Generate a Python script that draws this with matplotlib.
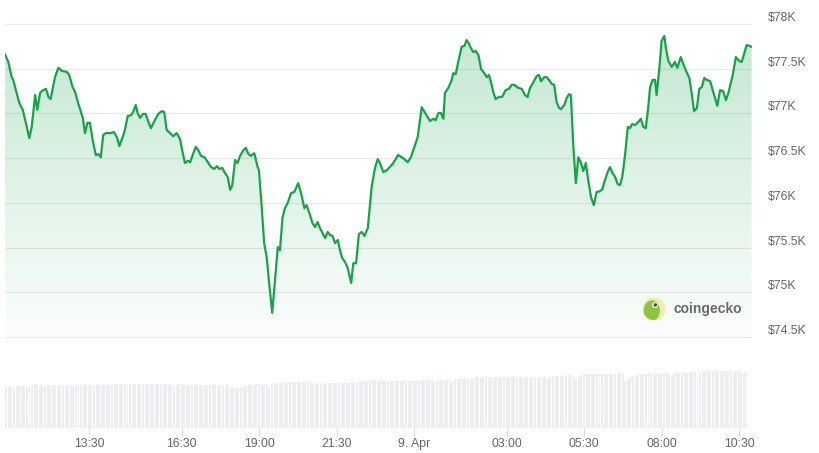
import numpy as np
import matplotlib
matplotlib.use("Agg")
import matplotlib.pyplot as plt
from matplotlib.colors import to_rgb
from matplotlib.patches import Circle, Ellipse

plt.rcParams["font.family"] = ["Liberation Sans", "DejaVu Sans"]

# price series: hours since 8 Apr 00:00, price in USD
price_hours = [
    10.79, 10.89, 11.00, 11.05, 11.16, 11.25, 11.36, 11.46, 11.57, 11.65,
    11.76, 11.83, 11.92, 12.02, 12.11, 12.19, 12.26, 12.40, 12.51, 12.62,
    12.78, 12.86, 12.97, 13.05, 13.15, 13.30, 13.37, 13.45, 13.53, 13.62,
    13.72, 13.80, 13.88, 13.96, 14.05, 14.18, 14.31, 14.40, 14.48, 14.59,
    14.66, 14.75, 14.86, 14.93, 15.01, 15.07, 15.15, 15.25, 15.33, 15.42,
    15.50, 15.63, 15.74, 15.85, 15.93, 16.01, 16.12, 16.22, 16.33, 16.44,
    16.51, 16.60, 16.69, 16.77, 16.85, 16.95, 17.03, 17.12, 17.23, 17.34,
    17.44, 17.55, 17.63, 17.71, 17.81, 17.89, 17.98, 18.06, 18.13, 18.22,
    18.30, 18.38, 18.49, 18.57, 18.65, 18.73, 18.84, 18.95, 18.99, 19.08,
    19.16, 19.24, 19.32, 19.42, 19.51, 19.60, 19.67, 19.75, 19.83, 19.92,
    20.03, 20.13, 20.26, 20.35, 20.46, 20.53, 20.64, 20.72, 20.80, 20.89,
    20.96, 21.05, 21.13, 21.21, 21.29, 21.37, 21.45, 21.54, 21.61, 21.68,
    21.77, 21.86, 21.97, 22.04, 22.13, 22.22, 22.31, 22.40, 22.51, 22.63,
    22.74, 22.83, 22.90, 23.01, 23.12, 23.22, 23.33, 23.49, 23.65, 23.80,
    23.90, 24.03, 24.12, 24.25, 24.36, 24.52, 24.62, 24.70, 24.79, 24.87,
    24.95, 25.00, 25.11, 25.22, 25.27, 25.35, 25.43, 25.54, 25.63, 25.70,
    25.76, 25.84, 25.92, 25.99, 26.08, 26.17, 26.27, 26.35, 26.42, 26.49,
    26.56, 26.64, 26.75, 26.85, 26.96, 27.07, 27.16, 27.24, 27.37, 27.48,
    27.59, 27.67, 27.75, 27.86, 27.97, 28.04, 28.10, 28.21, 28.29, 28.36,
    28.45, 28.53, 28.61, 28.69, 28.75, 28.86, 28.93, 29.01, 29.07, 29.15,
    29.23, 29.31, 29.40, 29.47, 29.55, 29.63, 29.72, 29.81, 29.90, 30.01,
    30.09, 30.17, 30.26, 30.33, 30.41, 30.50, 30.58, 30.66, 30.73, 30.82,
    30.91, 30.98, 31.05, 31.14, 31.23, 31.33, 31.41, 31.49, 31.57, 31.63,
    31.71, 31.79, 31.84, 31.93, 32.00, 32.09, 32.14, 32.22, 32.33, 32.43,
    32.51, 32.62, 32.70, 32.79, 32.90, 32.97, 33.05, 33.14, 33.22, 33.30,
    33.38, 33.46, 33.57, 33.67, 33.80, 33.89, 33.99, 34.08, 34.16, 34.30,
    34.40, 34.51, 34.59, 34.75, 34.91,
]
price_usd = [
    77655, 77580, 77410, 77375, 77230, 77115, 77040, 76895, 76725, 76850,
    77205, 77040, 77230, 77260, 77275, 77185, 77160, 77405, 77510, 77475,
    77465, 77430, 77295, 77240, 77115, 76950, 76780, 76895, 76895, 76700,
    76535, 76545, 76510, 76760, 76780, 76780, 76790, 76735, 76635, 76735,
    76815, 76970, 76980, 77020, 77095, 77005, 76950, 76995, 76995, 76905,
    76835, 76925, 76995, 77025, 77015, 76815, 76780, 76745, 76780, 76715,
    76590, 76445, 76470, 76455, 76535, 76625, 76590, 76525, 76510, 76455,
    76400, 76380, 76410, 76380, 76390, 76335, 76290, 76145, 76200, 76480,
    76445, 76525, 76590, 76615, 76545, 76525, 76555, 76400, 76365, 75955,
    75550, 75395, 75105, 74770, 75135, 75505, 75470, 75830, 75940, 76000,
    76110, 76120, 76220, 76110, 75940, 75975, 75865, 75775, 75730, 75785,
    75720, 75660, 75605, 75675, 75640, 75630, 75550, 75585, 75470, 75385,
    75340, 75270, 75105, 75325, 75325, 75650, 75675, 75630, 75720, 76175,
    76390, 76490, 76445, 76345, 76365, 76400, 76445, 76535, 76500, 76455,
    76510, 76645, 76735, 77070, 77005, 76915, 76940, 76925, 77005, 77005,
    76940, 77230, 77285, 77375, 77450, 77440, 77575, 77745, 77755, 77820,
    77790, 77730, 77685, 77700, 77655, 77495, 77450, 77405, 77430, 77350,
    77240, 77160, 77185, 77185, 77260, 77275, 77320, 77320, 77285, 77275,
    77205, 77185, 77285, 77350, 77420, 77430, 77360, 77405, 77405, 77375,
    77330, 77320, 77125, 77060, 77050, 77095, 77170, 77215, 77205, 76625,
    76220, 76510, 76445, 76355, 76445, 76255, 76065, 75975, 76120, 76130,
    76155, 76255, 76345, 76400, 76335, 76290, 76210, 76200, 76290, 76535,
    76850, 76835, 76880, 76870, 76895, 76940, 76850, 76835, 77070, 77295,
    77375, 77375, 77205, 77510, 77810, 77865, 77730, 77585, 77520, 77575,
    77510, 77630, 77555, 77475, 77395, 77230, 77025, 77060, 77275, 77295,
    77395, 77375, 77360, 77240, 77085, 77260, 77250, 77150, 77230, 77430,
    77630, 77585, 77575, 77765, 77745,
]

# 5-minute volume bars (relative units)
volume = [
    41.5, 42, 41.5, 41, 42, 42.5, 42, 41, 41.5, 42,
    43.5, 44, 43, 40, 43, 41.5, 43, 43.5, 43, 43,
    43.5, 43, 43, 43.5, 43, 43, 41, 43, 43.5, 43.5,
    43.5, 44, 43.5, 43, 43.5, 44, 43.5, 43.5, 43, 43.5,
    43.5, 44, 44, 44.5, 44, 44, 44, 43.5, 44, 44.5,
    44, 44, 43.5, 44, 44, 44, 43.5, 44, 44, 44,
    43.5, 44, 44, 44, 43.5, 41.5, 43.5, 44, 44, 43.5,
    43.5, 43, 43.5, 43.5, 44, 43.5, 43.5, 43, 43.5, 43.5,
    44, 43.5, 43.5, 43, 43.5, 43.5, 43, 41.5, 41, 40.5,
    40.5, 41, 41.5, 42, 43, 43, 43.5, 44, 44, 43.5,
    44, 44, 40, 44.5, 45, 45.5, 45, 45.5, 46, 45.5,
    46, 46, 46, 46, 46.5, 46, 46, 46, 45.5, 44.5,
    45, 45, 44.5, 45, 45, 45, 45, 45.5, 45.5, 45.5,
    45.5, 45.5, 45.5, 45.5, 46, 45.5, 45.5, 46.5, 47, 46.5,
    47, 48, 48.5, 48.5, 47, 48.5, 48, 48, 47.5, 47.5,
    47.5, 47.5, 47, 47, 47, 47, 47, 47.5, 47.5, 47.5,
    48, 48, 48, 48.5, 48, 48, 46, 48.5, 48.5, 49,
    48.5, 48.5, 48, 45, 49.5, 49.5, 49, 49.5, 50, 49.5,
    49.5, 50, 51.5, 51.5, 51.5, 51.5, 52, 51.5, 51.5, 51.5,
    51.5, 51.5, 51.5, 51.5, 51.5, 51.5, 51.5, 51.5, 51.5, 51.5,
    50, 51.5, 51.5, 51.5, 51.5, 51.5, 51.5, 51.5, 51.5, 51.5,
    50.5, 49.5, 52, 52, 52.5, 52.5, 53, 52.5, 53, 53.5,
    52.5, 48, 51, 53, 54, 54.5, 54.5, 54.5, 54.5, 54.5,
    54.5, 54.5, 54.5, 54.5, 54.5, 54.5, 54.5, 54.5, 55, 54.5,
    46.5, 48, 50.5, 52, 53.5, 54, 54, 54.5, 54.5, 55.5,
    54.5, 53, 55, 55, 55, 55, 55, 54, 52, 54,
    55, 55, 55, 55.5, 55.5, 56, 56.5, 56.5, 53, 56.5,
    57, 57, 57, 57, 57, 57, 57, 57, 57, 57,
    57, 57, 56.5, 57, 57, 56.5, 56.5, 56.5,
]

y_ticks = [74500, 75000, 75500, 76000, 76500, 77000, 77500, 78000]
y_labels = ["$74.5K", "$75K", "$75.5K", "$76K", "$76.5K", "$77K", "$77.5K", "$78K"]
x_ticks = [13.5, 16.5, 19.0, 21.5, 24.0, 27.0, 29.5, 32.0, 34.5]
x_labels = ["13:30", "16:30", "19:00", "21:30", "9. Apr", "03:00", "05:30", "08:00", "10:30"]

green = "#16a34a"
grid_col = "#e9e9e9"
label_col = "#666666"
t_start, t_end = 10.786, 34.922
y_lo, y_hi = 74489, 78268

W, H = 819, 453
fig = plt.figure(figsize=(W / 100, H / 100), dpi=100)

# price panel
ax = fig.add_axes([5 / W, 1 - 338 / H, 747 / W, 338 / H])
fill = ax.fill_between(price_hours, price_usd, 74500, facecolor="none", edgecolor="none")
grad = np.zeros((256, 1, 4))
grad[..., :3] = to_rgb(green)
grad[..., 3] = np.linspace(0.015, 0.28, 256)[:, None]
img = ax.imshow(grad, extent=[t_start, t_end, y_lo, y_hi], origin="lower",
                aspect="auto", zorder=1, interpolation="bilinear")
img.set_clip_path(fill.get_paths()[0], transform=ax.transData)
ax.plot(price_hours, price_usd, color=green, lw=1.6, zorder=3,
        solid_joinstyle="round")

ax.set_xlim(t_start, t_end)
ax.set_ylim(y_lo, y_hi)
ax.set_yticks(y_ticks)
ax.set_yticklabels(y_labels)
ax.set_xticks([])
ax.grid(axis="y", color=grid_col, lw=0.8, zorder=0)
ax.set_axisbelow(True)
ax.tick_params(axis="y", left=False, right=False, labelleft=False, labelright=True,
               pad=8, labelsize=8.8, labelcolor=label_col)
for lbl in ax.get_yticklabels():
    lbl.set_verticalalignment("bottom")
for s in ax.spines.values():
    s.set_visible(False)
ax.patch.set_alpha(0)

# volume panel
axv = fig.add_axes([5 / W, 1 - 428 / H, 747 / W, 60 / H])
bar_x = t_start + (np.arange(len(volume)) + 0.5) / 12
axv.bar(bar_x, volume, width=0.064, color="#eceef1", linewidth=0)
axv.set_xlim(t_start, t_end)
axv.set_ylim(0, 60)
axv.set_yticks([])
axv.set_xticks(x_ticks)
axv.set_xticklabels(x_labels)
axv.tick_params(axis="x", length=6, width=0.8, color="#d5dbe6", pad=1.5,
                labelsize=8.8, labelcolor=label_col)
for s in axv.spines.values():
    s.set_visible(False)
axv.patch.set_alpha(0)

# coingecko watermark
axl = fig.add_axes([643 / W, 1 - 320 / H, 22 / W, 22 / H])
axl.set_xlim(-1, 1)
axl.set_ylim(-1, 1)
axl.set_aspect("equal")
axl.axis("off")
bg = Circle((0, 0), 1, color="#f3ecb2")
axl.add_patch(bg)
body = Ellipse((-0.2, -0.15), 1.35, 1.75, color="#8cc63f")
axl.add_patch(body)
body.set_clip_path(bg)
axl.add_patch(Circle((0.08, 0.35), 0.2, color="white"))
axl.add_patch(Circle((0.12, 0.37), 0.09, color="#3d4a3a"))
fig.text(673 / W, 1 - 309 / H, "coingecko", fontsize=10, fontweight="bold",
         color="#6a6a6a", va="center", ha="left")

fig.savefig("out.png", dpi=100)
